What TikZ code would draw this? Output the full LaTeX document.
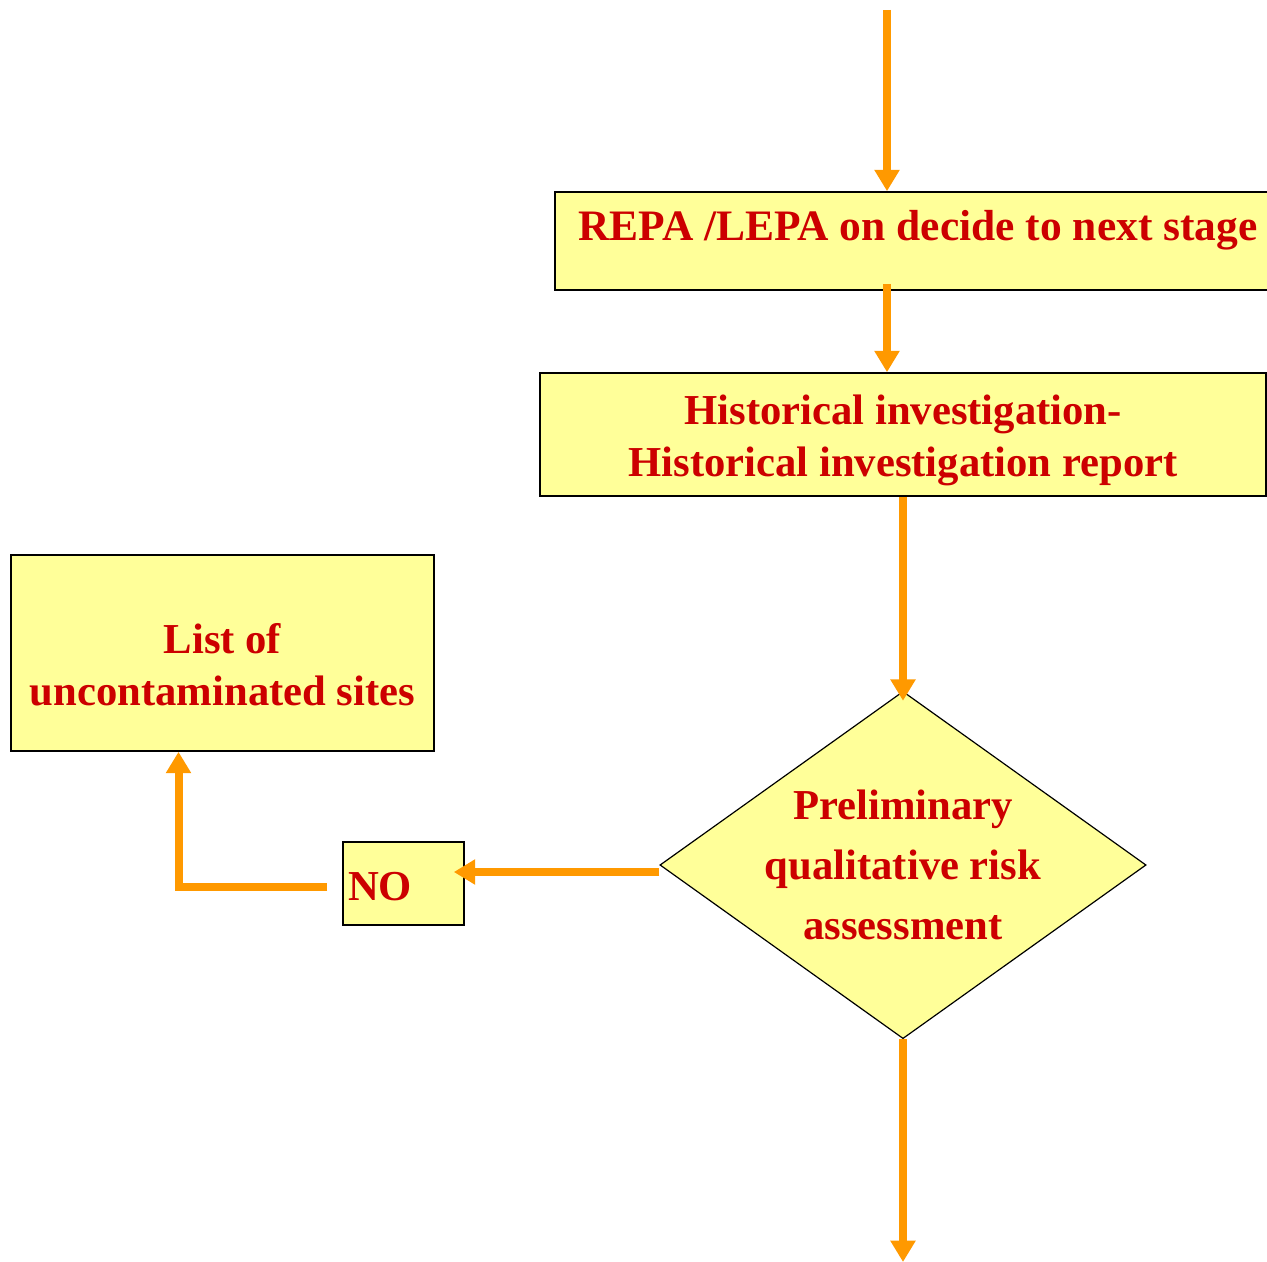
\documentclass[tikz,border=0pt]{standalone}
\usepackage{fontspec}
\setmainfont{Liberation Serif}
\usetikzlibrary{arrows.meta,shapes.geometric,calc}
\definecolor{boxyellow}{HTML}{FFFF99}
\definecolor{labelred}{HTML}{CC0000}
\definecolor{floworange}{HTML}{FF9900}
\tikzset{every picture/.style={line width=0.75pt}}
\tikzset{
  stagebox/.style={draw=black, line width=1.2pt, fill=boxyellow, text=labelred, inner sep=0pt, align=center, font=\bfseries\fontsize{32}{39}\selectfont},
  flow/.style={draw=floworange, line width=6pt, -{Triangle[length=16pt,width=18pt]}},
}
\begin{document}
\begin{tikzpicture}[x=0.75pt,y=0.75pt,yscale=-1,xscale=1]
\useasboundingbox (0,0) rectangle (1267,1262);

% Text Node
\node (repa) [stagebox, minimum width=544.5pt, minimum height=73.5pt, text depth=23.5pt, font=\bfseries\fontsize{32.6}{39}\selectfont] at (918,241) {REPA /LEPA on decide to next stage};
% Text Node
\node (hist) [stagebox, minimum width=544.5pt, minimum height=92.25pt, text height=70pt] at (903,434.5) {Historical investigation-\\Historical investigation report};
% Text Node
\node (list) [stagebox, minimum width=317.25pt, minimum height=147pt, text height=78.5pt] at (222.5,653) {List of\\uncontaminated sites};
% Text Node
\node (no) [stagebox, minimum width=90.75pt, minimum height=62.25pt, text width=83.25pt, align=left, inner xsep=3.75pt, text height=25pt, text depth=0pt] at (403.5,883.5) {NO};
% Text Node
\node (dia) [stagebox, diamond, shape aspect=1.4, line width=0.9pt, minimum width=362.25pt, minimum height=258.75pt, font=\bfseries\fontsize{32}{45}\selectfont] at (903,865) {Preliminary\\qualitative risk\\assessment};

\coordinate (topin) at (887,10);
\coordinate (botout) at (903,1262);
\coordinate (noin) at ($(no.east)+(-11,0)$);
\coordinate (dleft) at ($(dia.west)+(0,7)$);

% Connection
\draw [flow] (topin) -- (topin |- repa.north);
% Connection
\draw [flow] ($(repa.south -| topin)+(0,-7)$) -- (hist.north -| topin);
% Connection
\draw [flow] (hist.south) -- ($(dia.north)+(0,10)$);
% Connection
\draw [flow] (dleft) -- (dleft -| noin);
% Connection
\draw [flow] ($(no.west)+(-15,3.5)$) -| ($(list.south)+(-44,0)$);
% Connection
\draw [flow] (dia.south) -- (botout);

\end{tikzpicture}
\end{document}
